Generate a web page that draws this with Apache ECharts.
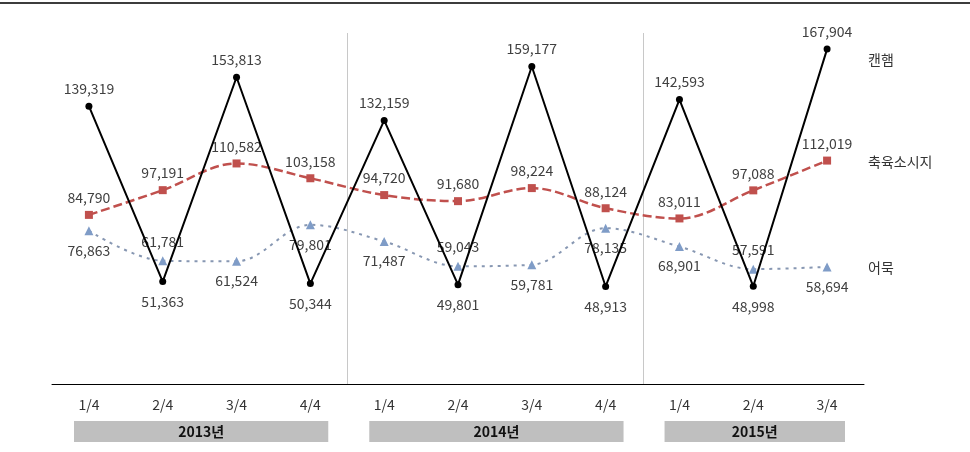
<!DOCTYPE html>
<html>
<head>
<meta charset="utf-8">
<script src="https://cdn.jsdelivr.net/npm/echarts@6/dist/echarts.min.js"></script>
<style>
  html, body { margin: 0; padding: 0; background: #ffffff; }
  #chart { width: 970px; height: 452px; }
</style>
</head>
<body>
<div id="chart"></div>
<script>
// Quarterly sales by product, 2013 Q1 – 2015 Q3
const quarters = ['1/4', '2/4', '3/4', '4/4', '1/4', '2/4', '3/4', '4/4', '1/4', '2/4', '3/4'];
const years = ['2013년', '2014년', '2015년'];
const quartersPerYear = [4, 4, 3];

const seriesNames = ['캔햄', '축육소시지', '어묵'];
const canHam = [139319, 51363, 153813, 50344, 132159, 49801, 159177, 48913, 142593, 48998, 167904];
const sausage = [84790, 97191, 110582, 103158, 94720, 91680, 98224, 88124, 83011, 97088, 112019];
const fishCake = [76863, 61781, 61524, 79801, 71487, 59043, 59781, 78135, 68901, 57591, 58694];

const FONT = '"Noto Sans CJK KR", "Noto Sans", sans-serif';
const fmt = v => v.toLocaleString('en-US');

const labelBase = { show: true, color: '#404040', fontSize: 14, fontFamily: FONT, formatter: p => fmt(p.value) };

// can ham: peaks labelled above, troughs below
function hamData() {
  return canHam.map((v, i) => {
    const prev = canHam[i - 1] ?? canHam[i + 1];
    const next = canHam[i + 1] ?? canHam[i - 1];
    const up = v >= (prev + next) / 2;
    return { value: v, label: { position: up ? 'top' : 'bottom', distance: up ? 7 : 10 } };
  });
}
// fish cake: a few labels sit above the marker, the rest below
const fishAbove = new Set([1, 5, 9]);
function fishData() {
  return fishCake.map((v, i) => ({
    value: v,
    label: { position: fishAbove.has(i) ? 'top' : 'bottom', distance: 8 }
  }));
}

const chart = echarts.init(document.getElementById('chart'), null, { renderer: 'canvas' });

const option = {
  backgroundColor: '#ffffff',
  animation: false,
  grid: { left: 52, right: 106, top: 25, bottom: 68 },
  xAxis: {
    type: 'category',
    data: quarters,
    boundaryGap: true,
    axisLine: { show: true, lineStyle: { color: '#000000', width: 1 } },
    axisTick: { show: false },
    axisLabel: { color: '#333333', fontSize: 14, fontFamily: FONT, margin: 14, interval: 0 },
    splitLine: { show: false }
  },
  yAxis: {
    type: 'value',
    min: 0,
    max: 180000,
    show: false,
    splitLine: { show: false }
  },
  series: [
    {
      name: seriesNames[1],
      type: 'line',
      data: sausage,
      smooth: 0.35,
      symbol: 'rect',
      symbolSize: 8,
      itemStyle: { color: '#c0504d' },
      lineStyle: { color: '#c0504d', width: 2.5, type: [9, 4] },
      label: Object.assign({}, labelBase, { position: 'top', distance: 6 }),
      z: 2
    },
    {
      name: seriesNames[2],
      type: 'line',
      data: fishData(),
      smooth: 0.35,
      symbol: 'triangle',
      symbolSize: 9,
      itemStyle: { color: '#7f9cc7' },
      lineStyle: { color: '#8797b2', width: 2, type: [3, 5] },
      label: labelBase,
      z: 2
    },
    {
      name: seriesNames[0],
      type: 'line',
      data: hamData(),
      symbol: 'circle',
      symbolSize: 7,
      itemStyle: { color: '#000000' },
      lineStyle: { color: '#000000', width: 2 },
      label: labelBase,
      z: 3
    }
  ]
};

chart.setOption(option);

// Year bands, separators and series names placed from the axis scale
const px = quarters.map((_, i) => chart.convertToPixel({ xAxisIndex: 0 }, i));
const band = px[1] - px[0];
const yAxisLine = chart.convertToPixel({ yAxisIndex: 0 }, 0);
const graphics = [];

graphics.push({ type: 'rect', shape: { x: 0, y: 2, width: 970, height: 2 }, style: { fill: '#3c3c3c' }, silent: true });

let start = 0;
years.forEach((y, k) => {
  const n = quartersPerYear[k];
  const left = px[start] - band / 2 + 22;
  const right = px[start + n - 1] + band / 2 - 19;
  graphics.push({
    type: 'rect',
    shape: { x: left, y: 421, width: right - left, height: 21 },
    style: { fill: '#bfbfbf' },
    silent: true
  });
  graphics.push({
    type: 'text',
    x: (left + right) / 2, y: 432,
    style: { text: y, fill: '#111111', font: 'bold 14px ' + FONT, align: 'center', verticalAlign: 'middle' },
    silent: true
  });
  if (k < years.length - 1) {
    const sx = Math.round(px[start + n - 1] + band / 2) + 0.5;
    graphics.push({
      type: 'line',
      shape: { x1: sx, y1: 33, x2: sx, y2: yAxisLine },
      style: { stroke: '#c8c8c8', lineWidth: 1 },
      silent: true, z: -1
    });
  }
  start += n;
});

const nameRows = [60, 162, 268];
seriesNames.forEach((name, i) => {
  graphics.push({
    type: 'text',
    x: 868, y: nameRows[i],
    style: { text: name, fill: '#333333', font: '14px ' + FONT, align: 'left', verticalAlign: 'middle' },
    silent: true
  });
});

chart.setOption({ graphic: graphics });
</script>
</body>
</html>
